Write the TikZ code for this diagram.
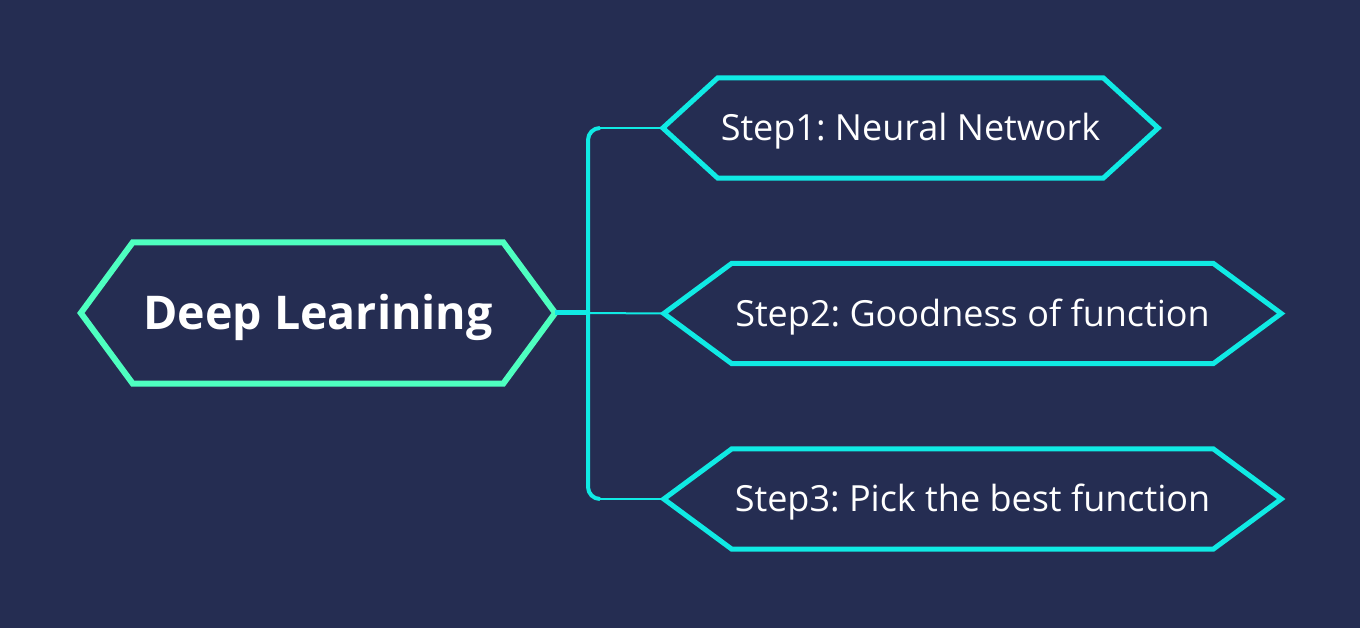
\documentclass[tikz,border=0pt]{standalone}
\usepackage{fontspec}
\setmainfont{Open Sans}
\usepackage{xcolor}
\usepackage{tikz}
\usetikzlibrary{positioning,calc}

\definecolor{bgnavy}{RGB}{37,45,82}
\definecolor{mintgreen}{RGB}{78,255,192}
\definecolor{stepcyan}{RGB}{16,234,228}

\tikzset{
    hexbox/.style={rectangle, draw=none, inner sep=0pt, text=white, align=center, text depth=0pt},
    mainbox/.style={hexbox, font=\fontsize{46.5}{52}\selectfont\bfseries, text height=33.2pt},
    stepbox/.style={hexbox, font=\fontsize{36}{42}\selectfont, text height=25.7pt},
    mainline/.style={draw=mintgreen, line width=6pt},
    stepline/.style={draw=stepcyan, line width=5pt},
    branch/.style={draw=stepcyan, line width=2pt},
    trunk/.style={draw=stepcyan, line width=5pt, rounded corners=12pt}
}

% hexagon round a node: #1 node, #2 tip length, #3 style
\newcommand{\hexframe}[3]{%
    \draw[#3] (#1.north west) -- (#1.north east) -- ($(#1.east)+(#2,0)$)
        -- (#1.south east) -- (#1.south west) -- ($(#1.west)-(#2,0)$) -- cycle;
}

\begin{document}
\frenchspacing
\begin{tikzpicture}[x=1pt, y=-1pt]
    % Background
    \fill[bgnavy] (0,0) rectangle (1360,628);

    % Main topic
    \node[mainbox, minimum width=370pt, minimum height=141pt] (deep) at (318,313) {Deep Learining};
    \hexframe{deep}{52}{mainline}
    \coordinate (deep-r) at ($(deep.east)+(52,0)$);

    % Steps
    \node[stepbox, minimum width=385pt, minimum height=100pt] (nn) at (910.5,128) {Step1: Neural Network};
    \node[stepbox, minimum width=481pt, minimum height=100pt] (good) at (972.5,313.5) {Step2: Goodness of function};
    \node[stepbox, minimum width=481pt, minimum height=100pt] (pick) at (972.5,499) {Step3: Pick the best function};
    \hexframe{nn}{55}{stepline}
    \hexframe{good}{68}{stepline}
    \hexframe{pick}{68}{stepline}
    \coordinate (nn-l) at ($(nn.west)-(55,0)$);
    \coordinate (good-l) at ($(good.west)-(68,0)$);
    \coordinate (pick-l) at ($(pick.west)-(68,0)$);

    % Connectors
    \coordinate (fork) at (588,313);
    \draw[trunk] (deep-r) -- (fork);
    \draw[trunk, line width=4pt] ($(nn-l -| fork)+(12,0)$) -- (nn-l -| fork) -- (pick-l -| fork) -- ($(pick-l -| fork)+(12,0)$);
    \draw[branch] ($(nn-l -| fork)+(11,0)$) -- (nn-l);
    \draw[branch] (fork) -- (good-l);
    \draw[branch] ($(pick-l -| fork)+(11,0)$) -- (pick-l);
\end{tikzpicture}
\end{document}
